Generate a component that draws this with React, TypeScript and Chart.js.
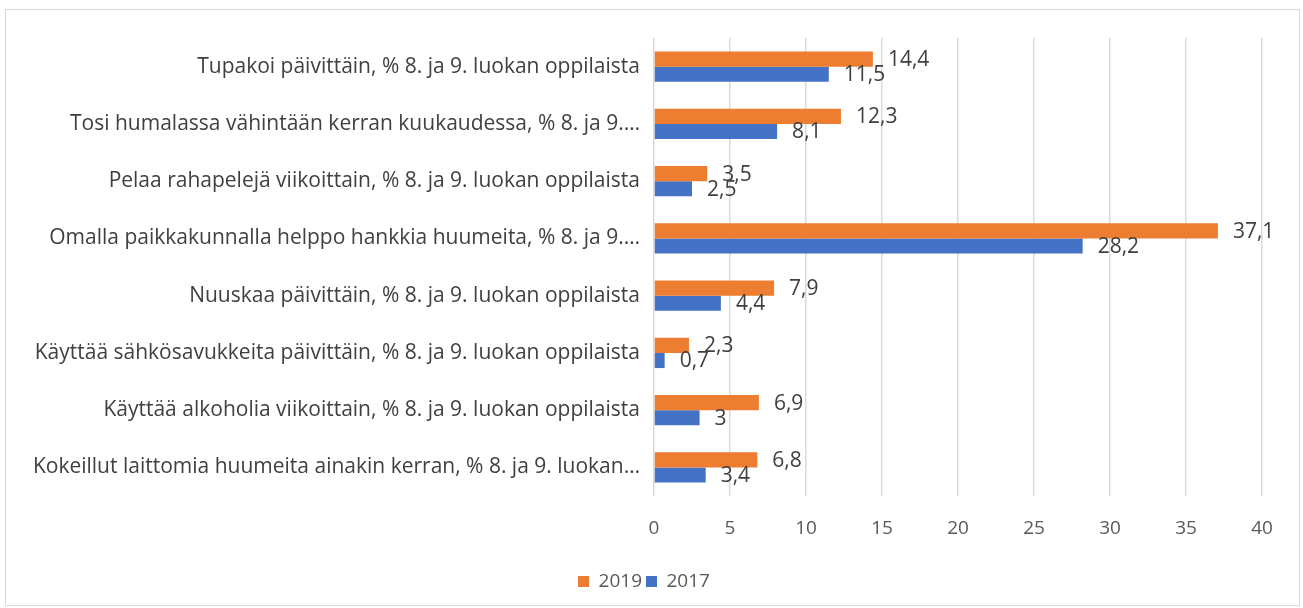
import React, { useEffect, useRef } from "react";
import { Chart, registerables } from "chart.js";

Chart.register(...registerables);

const categories = [
  "Tupakoi päivittäin, % 8. ja 9. luokan oppilaista",
  "Tosi humalassa vähintään kerran kuukaudessa, % 8. ja 9.…",
  "Pelaa rahapelejä viikoittain, % 8. ja 9. luokan oppilaista",
  "Omalla paikkakunnalla helppo hankkia huumeita, % 8. ja 9.…",
  "Nuuskaa päivittäin, % 8. ja 9. luokan oppilaista",
  "Käyttää sähkösavukkeita päivittäin, % 8. ja 9. luokan oppilaista",
  "Käyttää alkoholia viikoittain, % 8. ja 9. luokan oppilaista",
  "Kokeillut laittomia huumeita ainakin kerran, % 8. ja 9. luokan…",
];
const values2019 = [14.4, 12.3, 3.5, 37.1, 7.9, 2.3, 6.9, 6.8];
const values2017 = [11.5, 8.1, 2.5, 28.2, 4.4, 0.7, 3, 3.4];
const seriesNames = ["2019", "2017"];
const xMin = 0;
const xMax = 40;
const xStep = 5;

const FONT = "'Open Sans', 'Noto Sans', sans-serif";

const valueLabels = {
  id: "valueLabels",
  afterDatasetsDraw(chart: any) {
    const ctx = chart.ctx;
    ctx.save();
    ctx.font = `21px ${FONT}`;
    ctx.fillStyle = "#404040";
    ctx.textAlign = "left";
    ctx.textBaseline = "middle";
    chart.data.datasets.forEach((ds: any, di: number) => {
      const meta = chart.getDatasetMeta(di);
      meta.data.forEach((el: any, i: number) => {
        const v = ds.data[i];
        const txt = String(v).replace(".", ",");
        ctx.fillText(txt, el.x + 15, el.y + 1);
      });
    });
    ctx.restore();
  },
};

export default function App() {
  const ref = useRef<HTMLCanvasElement | null>(null);
  useEffect(() => {
    if (!ref.current) return;
    const chart = new Chart(ref.current, {
      type: "bar",
      data: {
        labels: categories,
        datasets: [
          {
            label: seriesNames[0],
            data: values2019,
            backgroundColor: "#ED7D31",
            borderWidth: 0,
            categoryPercentage: 0.53,
            barPercentage: 1,
          },
          {
            label: seriesNames[1],
            data: values2017,
            backgroundColor: "#4472C4",
            borderWidth: 0,
            categoryPercentage: 0.53,
            barPercentage: 1,
          },
        ],
      },
      options: {
        indexAxis: "y",
        animation: false,
        responsive: true,
        maintainAspectRatio: false,
        layout: { padding: { top: 28, right: 37, left: 20, bottom: 4 } },
        scales: {
          x: {
            min: xMin,
            max: xMax,
            ticks: {
              stepSize: xStep,
              color: "#595959",
              font: { family: FONT, size: 19 },
              padding: 21,
            },
            grid: { color: "#d9d9d9", lineWidth: 1.5, drawTicks: false },
            border: { display: false },
            afterFit: (s: any) => {
              s.height = 72;
            },
          },
          y: {
            ticks: {
              color: "#404040",
              font: { family: FONT, size: 21 },
              padding: 14,
              autoSkip: false,
            },
            grid: { display: false, drawTicks: false },
            border: { display: false },
            afterFit: (s: any) => {
              s.width = 628;
            },
          },
        },
        plugins: {
          legend: {
            position: "bottom",
            labels: {
              color: "#595959",
              font: { family: FONT, size: 19 },
              boxWidth: 11,
              boxHeight: 11,
              padding: 4,
            },
          },
          tooltip: { enabled: false },
        },
      },
      plugins: [valueLabels],
    });
    return () => chart.destroy();
  }, []);
  return (
    <div
      style={{
        position: "fixed",
        left: 5,
        top: 9,
        width: 1295,
        height: 597,
        border: "1px solid #d9d9d9",
        boxSizing: "border-box",
        background: "#fff",
      }}
    >
      <div style={{ position: "relative", width: 1293, height: 595 }}>
        <canvas ref={ref} />
      </div>
    </div>
  );
}
